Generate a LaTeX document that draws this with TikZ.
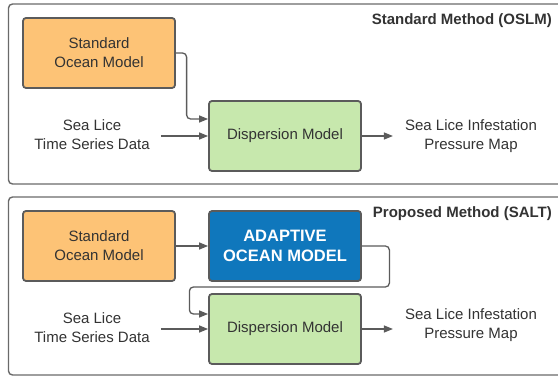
\documentclass[tikz,border=0pt]{standalone}
\usepackage{fontspec}
\setmainfont{Liberation Sans}
\usetikzlibrary{arrows.meta}
\definecolor{orangefill}{HTML}{FDC376}
\definecolor{greenfill}{HTML}{C7E8AD}
\definecolor{bluefill}{HTML}{0F77BC}
\definecolor{bordergray}{HTML}{5B5B5B}
\definecolor{panelgray}{HTML}{6A6A6A}
\definecolor{txtgray}{HTML}{333333}
\begin{document}
\begin{tikzpicture}[x=1pt,y=-1pt,
  every node/.style={font=\fontsize{15}{19}\selectfont, text=txtgray},
  panel/.style={draw=panelgray, line width=1.4pt, rounded corners=4pt},
  modelbox/.style={draw=bordergray, line width=1.8pt, rounded corners=3pt,
    minimum width=152pt, minimum height=70pt, align=center, inner sep=0pt},
  orangebox/.style={modelbox, fill=orangefill},
  greenbox/.style={modelbox, fill=greenfill},
  bluebox/.style={modelbox, fill=bluefill, text=white,
    font=\fontsize{16.5}{20}\selectfont\bfseries},
  plaintext/.style={align=center, inner xsep=11pt, inner ysep=0pt},
  paneltitle/.style={anchor=east, inner sep=0pt, font=\fontsize{15}{19}\selectfont\bfseries},
  conn/.style={draw=bordergray, line width=1.3pt, rounded corners=4pt,
    -{Triangle[length=9pt,width=7pt]}}
]
\useasboundingbox (0,0) rectangle (558,377);
\clip (0,0) rectangle (558,377);
\fill[white] (0,0) rectangle (558,377);

% panels
\draw[panel] (8.5,4) rectangle (580,184);
\draw[panel] (8.5,197) rectangle (580,375);

\node[paneltitle] (t1) at (552,21) {Standard Method (OSLM)};
\node[paneltitle] (t2) at (552,214) {Proposed Method (SALT)};

% top panel
\node[orangebox] (so1) at (99,53) {Standard\\Ocean Model};
\node[greenbox] (dm1) at (285,136) {Dispersion Model};
\node[plaintext] (sl1) at (92,134.5) {Sea Lice\\Time Series Data};
\node[plaintext, inner xsep=12pt] (out1) at (471,136) {Sea Lice Infestation\\Pressure Map};

\draw[conn] (so1.east) -| ([xshift=-21.5pt,yshift=17pt]dm1.west) -- ([yshift=17pt]dm1.west);
\draw[conn] (sl1.east |- dm1.west) -- (dm1.west);
\draw[conn] (dm1.east) -- (out1.west |- dm1.east);

% bottom panel
\node[orangebox] (so2) at (99,246) {Standard\\Ocean Model};
\node[bluebox] (am) at (285,246) {ADAPTIVE\\OCEAN MODEL};
\node[greenbox] (dm2) at (285,329) {Dispersion Model};
\node[plaintext] (sl2) at (92,327.5) {Sea Lice\\Time Series Data};
\node[plaintext, inner xsep=12pt] (out2) at (471,325.5) {Sea Lice Infestation\\Pressure Map};

\draw[conn] (so2.east) -- (am.west);
\draw[conn] (am.east) -- ++(27.5,0) -- ++(0,41) -- ++(-200,0) -- ++(0,27) -- ([yshift=15pt]dm2.west);
\draw[conn] (sl2.east |- dm2.west) -- (dm2.west);
\draw[conn] (dm2.east) -- (out2.west |- dm2.east);
\end{tikzpicture}
\end{document}
